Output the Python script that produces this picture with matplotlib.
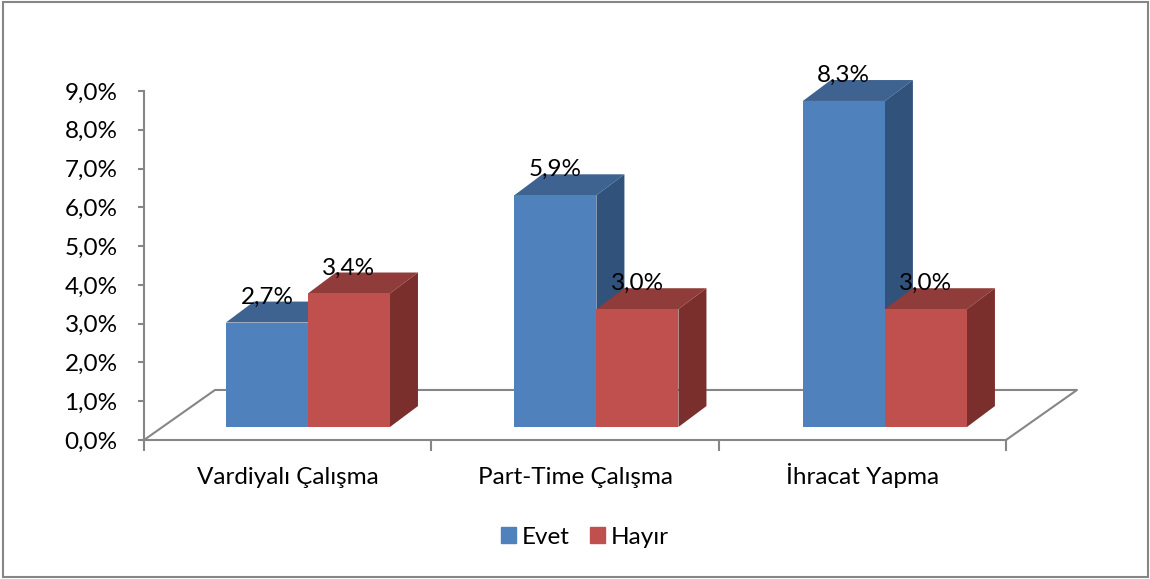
import matplotlib
matplotlib.use("Agg")
import matplotlib.pyplot as plt
from matplotlib.patches import Patch, Rectangle

plt.rcParams['font.family'] = ['Lato', 'DejaVu Sans']

categories = ['Vardiyalı Çalışma', 'Part-Time Çalışma', 'İhracat Yapma']
evet = [2.66, 5.9, 8.3]
hayir = [3.4, 3.0, 3.0]
y_ticks = [0, 1, 2, 3, 4, 5, 6, 7, 8, 9]

GREY = '#868686'
BLUE = ('#4F81BD', '#3E6391', '#31527A')
RED = ('#C0504D', '#8F3C3A', '#7B2F2D')

# fake 3d settings, in data units
BAR_W = 0.2855
BAR_START = 0.285
GROUP_STEP = 1.004
BASE = 0.335        # front of the bars sits a bit above the axis
DX, DY = 0.0975, 0.54   # bar depth
FLOOR_DX, FLOOR_DY = 0.247, 1.29
H_SCALE = 1.013     # bars come out slightly taller than the wall scale
FS = 17.5


def draw_bar(ax, x, value, colors, z):
    top = BASE + value * H_SCALE
    ax.bar(x, top - BASE, BAR_W, bottom=BASE, align='edge', color=colors[0], zorder=z + 0.2)
    ax.fill([x, x + BAR_W, x + BAR_W + DX, x + DX], [top, top, top + DY, top + DY],
            color=colors[1], lw=0, zorder=z, clip_on=False)
    ax.fill([x + BAR_W, x + BAR_W + DX, x + BAR_W + DX, x + BAR_W],
            [BASE, BASE + DY, top + DY, top],
            color=colors[2], lw=0, zorder=z + 0.1, clip_on=False)
    ax.text(x + BAR_W / 2, top + 0.66, f'{value:.1f}%'.replace('.', ','),
            ha='center', va='center', fontsize=FS, color='black', zorder=20, clip_on=False)


fig = plt.figure(figsize=(11.5, 5.79), dpi=100)
ax = fig.add_axes([144 / 1150, (579 - 440) / 579, 862 / 1150, 349 / 579])
ax.set_xlim(0, 3)
ax.set_ylim(0, 9)

# floor
ax.plot([0, FLOOR_DX, 3 + FLOOR_DX, 3], [0, FLOOR_DY, FLOOR_DY, 0],
        color=GREY, lw=1.5, zorder=1, clip_on=False)

for i in range(len(categories)):
    x = i * GROUP_STEP + BAR_START
    draw_bar(ax, x, evet[i], BLUE, 3 + i)
    draw_bar(ax, x + BAR_W, hayir[i], RED, 3.5 + i)

for s in ['top', 'right']:
    ax.spines[s].set_visible(False)
for s in ['left', 'bottom']:
    ax.spines[s].set_color(GREY)
    ax.spines[s].set_linewidth(1.5)

ax.set_yticks(y_ticks)
ax.set_yticklabels([f'{v:.1f}%'.replace('.', ',') for v in y_ticks], fontsize=FS, va='center_baseline')
ax.tick_params(axis='y', color=GREY, width=1.5, length=4, pad=15)
ax.set_xticks(range(4))
ax.set_xticklabels([])
ax.tick_params(axis='x', which='major', color=GREY, width=1.5, length=8)
ax.set_xticks([i + 0.5 for i in range(3)], minor=True)
ax.set_xticklabels(categories, minor=True, fontsize=FS, va='baseline')
ax.tick_params(axis='x', which='minor', length=0, pad=32)

handles = [Patch(color=BLUE[0], label='Evet'), Patch(color=RED[0], label='Hayır')]
fig.legend(handles=handles, loc='center', bbox_to_anchor=(585 / 1150, 1 - 537 / 579), ncol=2,
           frameon=False, fontsize=FS, handlelength=0.62, handleheight=0.62,
           handletextpad=0.22, columnspacing=0.85, borderpad=0)

# chart border
fig.add_artist(Rectangle((3 / 1150, 2 / 579), 1145 / 1150, 575 / 579, transform=fig.transFigure,
                         fill=False, edgecolor=GREY, lw=1.5))

fig.savefig('out.png', dpi=100)
